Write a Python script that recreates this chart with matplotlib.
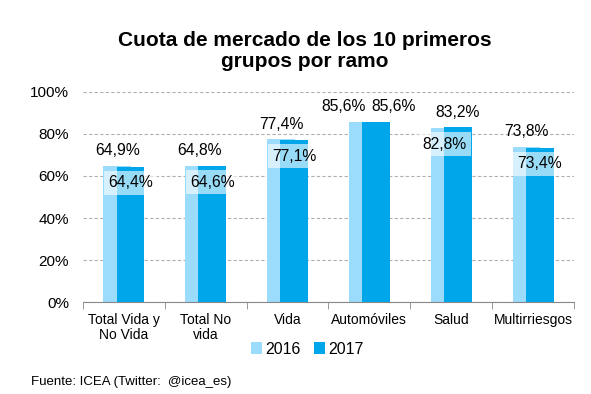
import numpy as np
import matplotlib
matplotlib.use("Agg")
import matplotlib.pyplot as plt

plt.rcParams['font.family'] = ['Liberation Sans', 'DejaVu Sans']

categorias = ["Total Vida y\nNo Vida", "Total No\nvida", "Vida", "Automóviles", "Salud", "Multirriesgos"]
cuota_2016 = [64.9, 64.8, 77.4, 85.6, 82.8, 73.8]
cuota_2017 = [64.4, 64.6, 77.1, 85.6, 83.2, 73.4]

c16 = '#9BDCFC'
c17 = '#00A6EA'

fig = plt.figure(figsize=(5.91, 3.94), dpi=100)
ax = fig.add_axes([0.1404, 0.2335, 0.8308, 0.533])

x = np.arange(len(categorias))
w = 0.34
off = 0.08
b16 = ax.bar(x - off, cuota_2016, w, color=c16, label='2016', zorder=2)
b17 = ax.bar(x + off, cuota_2017, w, color=c17, label='2017', zorder=3)

def fmt(v):
    return ("%.1f%%" % v).replace('.', ',')

fs = 11.3
box = dict(boxstyle='square,pad=0.28', fc='white', ec='none', alpha=0.6)
for i in range(len(x)):
    v16, v17 = cuota_2016[i], cuota_2017[i]
    if v16 == v17:
        # same height: both above, pushed apart
        ax.annotate(fmt(v16), (x[i] - off, v16), xytext=(-14, 11), textcoords='offset points',
                    ha='center', va='center', fontsize=fs, zorder=5)
        ax.annotate(fmt(v17), (x[i] + off, v17), xytext=(13, 11), textcoords='offset points',
                    ha='center', va='center', fontsize=fs, zorder=5)
        continue
    hi_x, hi_v, lo_x, lo_v = (x[i] - off, v16, x[i] + off, v17) if v16 > v17 else (x[i] + off, v17, x[i] - off, v16)
    ax.annotate(fmt(hi_v), (hi_x, hi_v), xytext=(0, 11), textcoords='offset points',
                ha='center', va='center', fontsize=fs, zorder=5)
    ax.annotate(fmt(lo_v), (lo_x, lo_v), xytext=(0, -11.5), textcoords='offset points',
                ha='center', va='center', fontsize=fs, bbox=box, zorder=5)

ax.set_ylim(0, 100)
ax.set_xlim(-0.5, len(x) - 0.5)
ax.set_yticks(np.arange(0, 101, 20))
ax.set_yticklabels(["%d%%" % t for t in range(0, 101, 20)], fontsize=11)
ax.yaxis.grid(True, linestyle=(0, (3, 2)), color='#b0b0b0', linewidth=0.8, zorder=0)
ax.set_axisbelow(True)
ax.tick_params(axis='y', length=0, pad=10)

ax.set_xticks(x)
ax.set_xticklabels(categorias, fontsize=10, linespacing=1.05)
ax.tick_params(axis='x', length=0, pad=8)
ax.set_xticks(np.arange(-0.5, len(x), 1), minor=True)
ax.tick_params(axis='x', which='minor', length=5, color='#888888')

for s in ['top', 'right', 'left']:
    ax.spines[s].set_visible(False)
ax.spines['bottom'].set_color('#888888')

fig.text(0.516, 0.87, "Cuota de mercado de los 10 primeros\ngrupos por ramo", ha='center', va='center',
         fontsize=15, fontweight='bold', linespacing=1.1)

fig.legend(handles=[b16, b17], loc='center', bbox_to_anchor=(0.52, 0.114), ncol=2, frameon=False,
           fontsize=11.5, handlelength=0.7, handleheight=0.7, handletextpad=0.2, columnspacing=0.8,
           borderpad=0)

fig.text(0.052, 0.03, "Fuente: ICEA (Twitter:  @icea_es)", ha='left', va='center', fontsize=9.5)

fig.savefig("out.png", dpi=100)
